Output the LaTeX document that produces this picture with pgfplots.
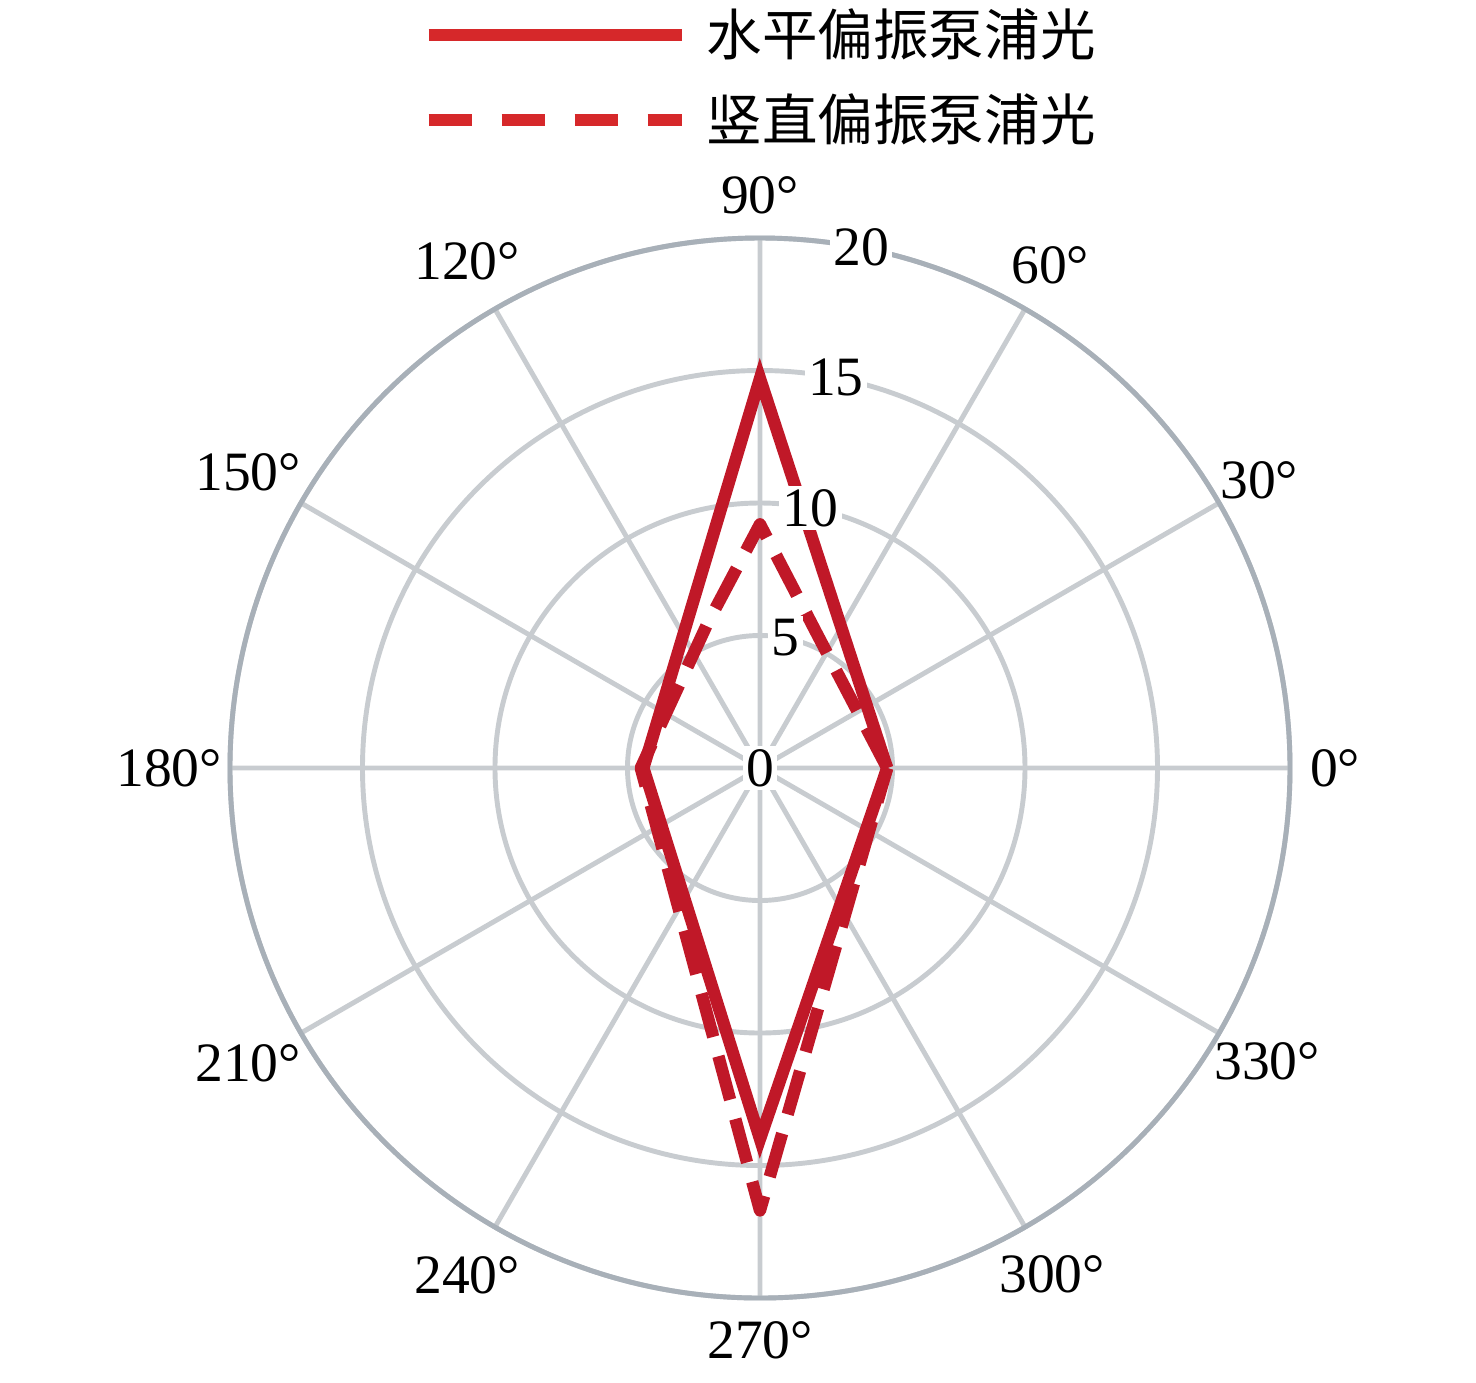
\documentclass[border=0pt]{standalone}
\usepackage{fontspec}
\setmainfont{Liberation Serif}
\newfontfamily\cjk{Noto Sans CJK SC}
\usepackage{pgfplots}
\usepgfplotslibrary{polar}
\pgfplotsset{compat=1.18}

\definecolor{plotred}{RGB}{192,24,40}
\definecolor{legred}{RGB}{214,40,42}
\definecolor{gridgray}{RGB}{200,204,208}
\definecolor{rimgray}{RGB}{168,176,184}

\begin{document}
\begin{tikzpicture}
\useasboundingbox (-7.60,-6.14) rectangle (7.16,7.68);
\begin{polaraxis}[
    at={(0,0)}, anchor=center,
    scale only axis, width=10.6cm, height=10.6cm,
    clip=false,
    ymin=0, ymax=20,
    xtick={0,30,...,330},
    ytick={0,5,10,15,20},
    xticklabels={}, yticklabels={},
    major tick length=0pt,
    grid=major,
    major grid style={gridgray, line width=1.4pt},
    x axis line style={rimgray, line width=1.4pt},
    y axis line style={draw=none},
    legend image code/.code={\draw[#1] (0cm,0cm) -- (2.53cm,0cm);},
    legend style={
        at={(0.181,1.217)}, anchor=north west,
        draw=none, fill=none, inner sep=0pt,
        row sep=0.33cm, column sep=0.19cm,
        font=\cjk\fontsize{15.8}{18}\selectfont,
        nodes={inner sep=0pt},
    },
]
\addlegendimage{legred, line width=3.5pt}
\addlegendentry{水平偏振泵浦光}
\addlegendimage{legred, line width=3.5pt, dash pattern=on 0.43cm off 0.3cm}
\addlegendentry{竖直偏振泵浦光}

% vertical polarisation pump (dashed)
\addplot[plotred, line width=3.5pt, line join=round, dash pattern=on 0.45cm off 0.2cm, forget plot]
coordinates {(0,4.8) (67,5.5) (90,9.2) (110,5.8) (180,4.5) (270,16.7) (360,4.8)};

% horizontal polarisation pump (solid)
\addplot[plotred, line width=3.5pt, line join=miter, forget plot]
coordinates {(0,4.8) (90,14.7) (180,4.4) (270,14.0) (360,4.8)};

% angle labels (angle/radius of label centre)
\foreach \a/\d in {0/21.7,30/21.75,60/21.9,90/21.6,120/22.1,150/22.3,180/22.3,
                   210/22.3,240/22.1,270/21.6,300/22.05,330/22.1}{
  \edef\temp{\noexpand\node[anchor=center, inner sep=0pt, font=\noexpand\fontsize{15.8}{18}\noexpand\selectfont]
    at (axis cs:\a,\d) {\a°};}
  \temp
}
% radial labels
\foreach \r in {0,5,10,15,20}{
  \edef\temp{\noexpand\node[fill=white, inner sep=1pt, font=\noexpand\fontsize{15.8}{18}\noexpand\selectfont]
    at (axis cs:79,\r) {\r};}
  \temp
}
\end{polaraxis}
\end{tikzpicture}
\end{document}
